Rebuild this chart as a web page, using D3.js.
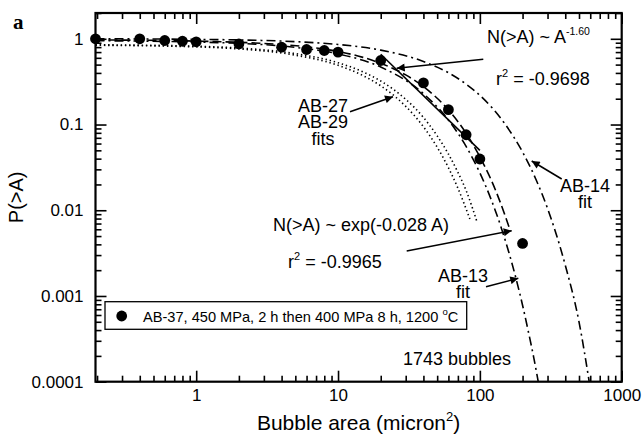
<!DOCTYPE html>
<html>
<head>
<meta charset="utf-8">
<script src="https://cdn.jsdelivr.net/npm/d3@7"></script>
<style>
  body { margin: 0; background: #fff; }
  text { font-family: "Liberation Sans", Arial, Helvetica, sans-serif; fill: #000; }
</style>
</head>
<body>
<div id="chart"></div>
<script>
// measured AB-37 points (bubble area, P(>A))
const dataArea = [0.195, 0.4, 0.6, 0.8, 1, 2, 4, 6, 8, 10, 20, 40, 60, 80, 100, 200];
const dataProb = [1.0, 1.0, 0.955, 0.937, 0.923, 0.874, 0.798, 0.75, 0.73, 0.70, 0.558, 0.306, 0.149, 0.076, 0.0396, 0.0041];

// exponential fit to AB-37 (dashed)
const expFitArea = [0.195, 1, 2, 4, 6, 8, 10, 15, 20, 30, 40, 60, 80, 100, 120, 140, 163];
const expFitProb = [0.97, 0.94, 0.91, 0.857, 0.806, 0.758, 0.713, 0.607, 0.518, 0.379, 0.277, 0.148, 0.079, 0.042, 0.0227, 0.0121, 0.0059];

// power law fit (solid)
const powFitArea = [20, 100];
const powFitProb = [0.66, 0.05];

// AB-13 fit (dash-dot)
const ab13Area = [0.195, 1, 2, 5, 10, 20, 40, 60, 80, 100, 120, 140, 160, 180, 200, 220, 240, 258];
const ab13Prob = [0.95, 0.917, 0.885, 0.795, 0.667, 0.468, 0.229, 0.113, 0.0555, 0.0273, 0.0134, 0.0066, 0.00324, 0.00159, 0.00078, 0.00038, 0.00019, 0.0001];

// AB-14 fit (dash-dot)
const ab14Area = [0.195, 1, 2, 5, 10, 20, 40, 60, 80, 100, 150, 200, 250, 300, 400, 500, 590];
const ab14Prob = [1.0, 0.985, 0.97, 0.927, 0.859, 0.738, 0.544, 0.402, 0.296, 0.219, 0.102, 0.0478, 0.0224, 0.0105, 0.00229, 0.0005, 0.0001];

// AB-27 and AB-29 fits (dotted)
const ab27Area = [0.195, 1, 2, 5, 10, 15, 20, 25, 30, 40, 50, 60, 70, 85];
const ab27Prob = [0.841, 0.805, 0.762, 0.645, 0.491, 0.372, 0.283, 0.215, 0.163, 0.0942, 0.0544, 0.0314, 0.0181, 0.0079];
const ab29Area = [0.195, 1, 2, 5, 10, 15, 20, 25, 30, 40, 50, 60, 70, 80, 95];
const ab29Prob = [0.852, 0.819, 0.78, 0.672, 0.526, 0.411, 0.322, 0.252, 0.197, 0.121, 0.0738, 0.0453, 0.0277, 0.017, 0.0075];

const xMajor = [1, 10, 100, 1000];
const xMajorLabels = ["1", "10", "100", "1000"];
const yMajor = [1, 0.1, 0.01, 0.001, 0.0001];
const yMajorLabels = ["1", "0.1", "0.01", "0.001", "0.0001"];

const width = 644;
const height = 435;
const margin = {top: 13, right: 22.3, bottom: 53.3, left: 95.5};
const plotW = width - margin.left - margin.right;
const plotH = height - margin.top - margin.bottom;

const svg = d3.select("#chart")
    .append("svg")
    .attr("width", width)
    .attr("height", height);

const defs = svg.append("defs");
defs.append("marker")
    .attr("id", "arrow")
    .attr("viewBox", "0 0 10 10")
    .attr("refX", 10)
    .attr("refY", 5)
    .attr("markerUnits", "userSpaceOnUse")
    .attr("markerWidth", 10)
    .attr("markerHeight", 8)
    .attr("orient", "auto")
    .append("path")
    .attr("d", "M0,0 L10,5 L0,10 Z")
    .attr("fill", "#000");
defs.append("clipPath")
    .attr("id", "plotClip")
    .append("rect")
    .attr("width", plotW)
    .attr("height", plotH);

const g = svg.append("g").attr("transform", `translate(${margin.left},${margin.top})`);

// scales
const xScale = d3.scaleLog().domain([0.195, 1000]).range([0, plotW]);
const yScale = d3.scaleLog().domain([0.0001, 2.0]).range([plotH, 0]);

// minor ticks
const xMinor = [];
for (let d = 0.1; d < 1000; d *= 10) {
    for (let k = 2; k <= 9; k++) {
        const v = +(k * d).toPrecision(3);
        if (v >= 0.195 && v <= 1000) xMinor.push(v);
    }
}
const yMinor = [];
for (let d = 0.0001; d < 1; d *= 10) {
    for (let k = 2; k <= 9; k++) yMinor.push(+(k * d).toPrecision(3));
}
yMinor.push(2);

const styleAxis = sel => {
    sel.select(".domain").remove();
    sel.selectAll(".tick line").attr("stroke", "#000").attr("stroke-width", 1.6);
    sel.selectAll(".tick text").style("font-size", "17px");
};

// bottom
g.append("g").attr("transform", `translate(0,${plotH})`)
    .call(d3.axisBottom(xScale).tickValues(xMajor).tickFormat((d, i) => xMajorLabels[i]).tickSize(-11).tickPadding(7))
    .call(styleAxis);
g.append("g").attr("transform", `translate(0,${plotH})`)
    .call(d3.axisBottom(xScale).tickValues(xMinor).tickFormat("").tickSize(-6))
    .call(styleAxis);
// top
g.append("g")
    .call(d3.axisTop(xScale).tickValues(xMajor).tickFormat("").tickSize(-11))
    .call(styleAxis);
g.append("g")
    .call(d3.axisTop(xScale).tickValues(xMinor).tickFormat("").tickSize(-6))
    .call(styleAxis);
// left
g.append("g")
    .call(d3.axisLeft(yScale).tickValues(yMajor).tickFormat((d, i) => yMajorLabels[i]).tickSize(-11).tickPadding(12))
    .call(styleAxis);
g.append("g")
    .call(d3.axisLeft(yScale).tickValues(yMinor).tickFormat("").tickSize(-6))
    .call(styleAxis);
// right
g.append("g").attr("transform", `translate(${plotW},0)`)
    .call(d3.axisRight(yScale).tickValues(yMajor).tickFormat("").tickSize(-11))
    .call(styleAxis);
g.append("g").attr("transform", `translate(${plotW},0)`)
    .call(d3.axisRight(yScale).tickValues(yMinor).tickFormat("").tickSize(-6))
    .call(styleAxis);

// frame
g.append("rect")
    .attr("width", plotW)
    .attr("height", plotH)
    .attr("fill", "none")
    .attr("stroke", "#000")
    .attr("stroke-width", 2.2);

// curves
const line = d3.line()
    .x(d => xScale(d[0]))
    .y(d => yScale(d[1]))
    .curve(d3.curveMonotoneX);

const curves = [
    {a: ab14Area, p: ab14Prob, dash: "9,4,2,4"},
    {a: ab13Area, p: ab13Prob, dash: "9,4,2,4"},
    {a: expFitArea, p: expFitProb, dash: "9,4"},
    {a: ab27Area, p: ab27Prob, dash: "1.4,2.8"},
    {a: ab29Area, p: ab29Prob, dash: "1.4,2.8"},
    {a: powFitArea, p: powFitProb, dash: null}
];
const curveG = g.append("g").attr("clip-path", "url(#plotClip)");
curves.forEach(c => {
    curveG.append("path")
        .datum(c.a.map((v, i) => [v, c.p[i]]))
        .attr("fill", "none")
        .attr("stroke", "#000")
        .attr("stroke-width", 1.6)
        .attr("stroke-dasharray", c.dash)
        .attr("d", line);
});

// data points
g.append("g").selectAll("circle")
    .data(dataArea.map((v, i) => [v, dataProb[i]]))
    .join("circle")
    .attr("cx", d => xScale(d[0]))
    .attr("cy", d => yScale(d[1]))
    .attr("r", 5.4)
    .attr("fill", "#000");

// axis titles
const xTitle = svg.append("text")
    .attr("x", margin.left + plotW / 2)
    .attr("y", 430)
    .attr("text-anchor", "middle")
    .style("font-size", "21px")
    .text("Bubble area (micron");
xTitle.append("tspan").attr("dy", -9).style("font-size", "13px").text("2");
xTitle.append("tspan").attr("dy", 9).text(")");

svg.append("text")
    .attr("transform", `translate(23,${margin.top + plotH / 2}) rotate(-90)`)
    .attr("text-anchor", "middle")
    .style("font-size", "20px")
    .text("P(>A)");

svg.append("text")
    .attr("x", 13)
    .attr("y", 29)
    .style("font-family", "'Liberation Serif', 'Times New Roman', serif")
    .style("font-weight", "bold")
    .style("font-size", "21px")
    .text("a");

// annotations
const ann = svg.append("g").style("font-size", "18px");

const powText = ann.append("text").attr("x", 487).attr("y", 42.5).text("N(>A) ~ A");
powText.append("tspan").attr("dy", -8).style("font-size", "10.5px").text("-1.60");

const r1 = ann.append("text").attr("x", 496).attr("y", 85).text("r");
r1.append("tspan").attr("dy", -8).style("font-size", "11px").text("2");
r1.append("tspan").attr("dy", 8).text(" = -0.9698");

ann.append("text").attr("x", 273).attr("y", 230.5).text("N(>A) ~ exp(-0.028 A)");
const r2 = ann.append("text").attr("x", 288).attr("y", 268).text("r");
r2.append("tspan").attr("dy", -8).style("font-size", "11px").text("2");
r2.append("tspan").attr("dy", 8).text(" = -0.9965");

const multi = (x, y0, lines) => {
    lines.forEach((t, i) => {
        ann.append("text")
            .attr("x", x)
            .attr("y", y0 + i * 16.7)
            .attr("text-anchor", "middle")
            .text(t);
    });
};
multi(323, 111.5, ["AB-27", "AB-29", "fits"]);
multi(463, 281.5, ["AB-13", "fit"]);
multi(585, 191.5, ["AB-14", "fit"]);

ann.append("text").attr("x", 403).attr("y", 365).text("1743 bubbles");

// arrows
const arrows = [
    [483.3, 59.3, 396.7, 68.3],
    [350, 111.7, 393, 96.7],
    [406.7, 251, 511.7, 230.7],
    [486, 286.7, 518.3, 278.3],
    [561.7, 179, 531.7, 161]
];
svg.append("g").selectAll("line")
    .data(arrows)
    .join("line")
    .attr("x1", d => d[0]).attr("y1", d => d[1])
    .attr("x2", d => d[2]).attr("y2", d => d[3])
    .attr("stroke", "#000")
    .attr("stroke-width", 1.6)
    .attr("marker-end", "url(#arrow)");

// legend
const legend = svg.append("g");
legend.append("rect")
    .attr("x", 105).attr("y", 301.7)
    .attr("width", 361.7).attr("height", 27.6)
    .attr("fill", "#fff")
    .attr("stroke", "#000")
    .attr("stroke-width", 1.3);
legend.append("circle").attr("cx", 121.7).attr("cy", 316).attr("r", 5.4).attr("fill", "#000");
const legText = legend.append("text").attr("x", 143).attr("y", 321.5).style("font-size", "14.6px")
    .text("AB-37, 450 MPa, 2 h then 400 MPa 8 h, 1200 ");
legText.append("tspan").attr("dy", -7).style("font-size", "9.5px").text("o");
legText.append("tspan").attr("dy", 7).text("C");
</script>
</body>
</html>
